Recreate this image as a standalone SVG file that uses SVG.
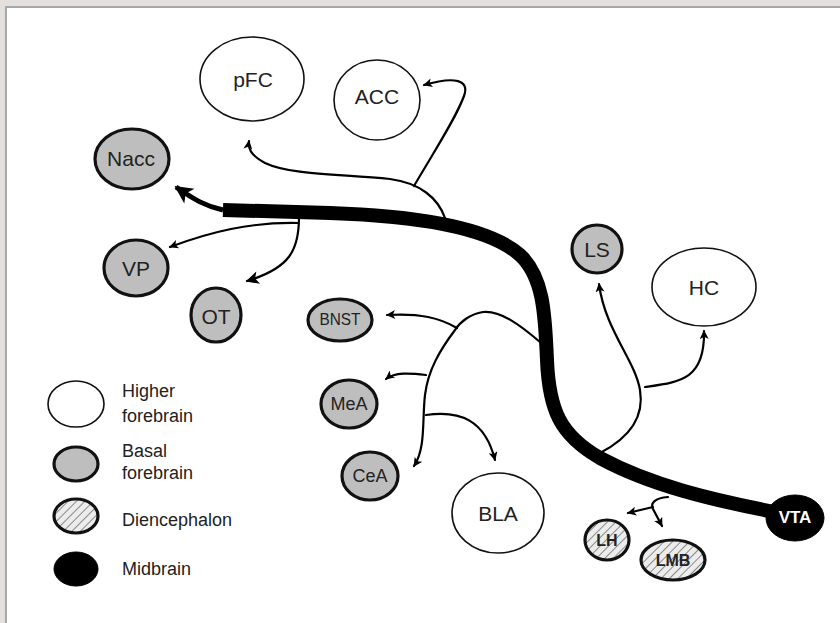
<svg xmlns="http://www.w3.org/2000/svg" width="840" height="623" viewBox="0 0 840 623">
<defs>
<style>
text{font-family:"Liberation Sans",Arial,sans-serif;fill:#222;}
.lbl{font-size:21px;text-anchor:middle;dominant-baseline:central;}
.bold{font-weight:bold;}
.leg{font-size:18px;}
.hi{fill:#fff;stroke:#111;stroke-width:1.6;}
.ba{fill:#bebebe;stroke:#111;stroke-width:3.2;}
.di{fill:url(#hatch);stroke:#111;stroke-width:3.2;}
.mid{fill:#000;stroke:#000;stroke-width:1;}
.c{fill:none;stroke:#000;stroke-width:2.2;stroke-linecap:round;}
</style>
<pattern id="hatch" patternUnits="userSpaceOnUse" width="6" height="6" patternTransform="rotate(45)">
<rect width="6" height="6" fill="#ececec"/>
<line x1="0" y1="0" x2="0" y2="6" stroke="#8a8a8a" stroke-width="2"/>
</pattern>
<marker id="a" viewBox="0 0 10 10" refX="9" refY="5" markerWidth="11" markerHeight="9" markerUnits="userSpaceOnUse" orient="auto"><path d="M0,0 L10,5 L0,10 L2.5,5 z"/></marker>
<marker id="b" viewBox="0 0 10 10" refX="9" refY="5" markerWidth="15" markerHeight="13" markerUnits="userSpaceOnUse" orient="auto"><path d="M0,0 L10,5 L0,10 L2.5,5 z"/></marker>
<marker id="c" viewBox="0 0 10 10" refX="9" refY="5" markerWidth="20" markerHeight="18" markerUnits="userSpaceOnUse" orient="auto"><path d="M0,0 L10,5 L0,10 L2.5,5 z"/></marker>
</defs>
<rect x="0" y="0" width="840" height="623" fill="#e3e0dd"/>
<rect x="6" y="7" width="840" height="630" fill="#fff" stroke="#a8a8a8" stroke-width="2"/>

<g id="connectors">
<path d="M223,210 L330,213 C420,216 490,228 520,255 C545,278 545,320 547,360 C549,410 560,435 600,458 C650,485 710,500 790,515" fill="none" stroke="#000" stroke-width="14"/>
<path d="M223,210 C205,206 195,200 176,187" fill="none" stroke="#000" stroke-width="5" marker-end="url(#c)"/>
<path class="c" d="M298,223 C250,222 210,232 170,247" stroke-width="3" marker-end="url(#a)"/>
<path class="c" d="M299,217 C299,250 290,268 247,281" stroke-width="3.5" marker-end="url(#b)"/>
<path class="c" d="M445,218 C438,198 420,183 390,179 C340,174 290,175 265,163 C250,155 248,148 249,141" marker-end="url(#a)"/>
<path class="c" d="M414,186 C435,150 455,120 464,96 C470,80 455,76 424,85" marker-end="url(#a)"/>
<path class="c" d="M540,342 C520,325 500,310 483,312 C470,314 460,322 455,330 C440,350 428,370 425,395 C422,420 426,448 414,466" marker-end="url(#a)"/>
<path class="c" d="M457,328 C440,318 420,313 387,315" marker-end="url(#a)"/>
<path class="c" d="M426,375 C410,373 395,372 386,379" marker-end="url(#a)"/>
<path class="c" d="M426,415 C460,410 485,420 495,460" marker-end="url(#a)"/>
<path class="c" d="M600,453 C625,440 645,420 640,390 C635,360 605,330 599,284" marker-end="url(#a)"/>
<path class="c" d="M645,387 C680,382 705,380 704,331" marker-end="url(#a)"/>
<path class="c" d="M668,497 C655,498 650,503 653,509 L662,526" stroke-width="2.6" marker-end="url(#a)"/>
<path class="c" d="M653,507 L628,513" marker-end="url(#a)"/>
</g>

<g id="pFC"><ellipse class="hi" cx="252" cy="79" rx="52" ry="42"/><text class="lbl" x="253" y="79">pFC</text></g>
<g id="ACC"><ellipse class="hi" cx="377" cy="100" rx="43" ry="40"/><text class="lbl" x="377" y="96">ACC</text></g>
<g id="Nacc"><ellipse class="ba" cx="132" cy="159" rx="37" ry="30"/><text class="lbl" x="131" y="158">Nacc</text></g>
<g id="VP"><ellipse class="ba" cx="136" cy="268" rx="32" ry="28"/><text class="lbl" x="136" y="268">VP</text></g>
<g id="OT"><ellipse class="ba" cx="216" cy="315" rx="25" ry="27"/><text class="lbl" x="216" y="316">OT</text></g>
<g id="BNST"><ellipse class="ba" cx="340" cy="320" rx="32" ry="21"/><text class="lbl" x="340" y="319" style="font-size:16px" textLength="41" lengthAdjust="spacingAndGlyphs">BNST</text></g>
<g id="MeA"><ellipse class="ba" cx="349" cy="404" rx="28" ry="24"/><text class="lbl" x="349" y="404" style="font-size:18px">MeA</text></g>
<g id="CeA"><ellipse class="ba" cx="370" cy="476" rx="28" ry="24"/><text class="lbl" x="370" y="476" style="font-size:18px">CeA</text></g>
<g id="BLA"><ellipse class="hi" cx="498" cy="513" rx="46" ry="40"/><text class="lbl" x="498" y="513">BLA</text></g>
<g id="LS"><ellipse class="ba" cx="597" cy="249" rx="25" ry="24"/><text class="lbl" x="597" y="249">LS</text></g>
<g id="HC"><ellipse class="hi" cx="704" cy="287" rx="52" ry="39"/><text class="lbl" x="704" y="287">HC</text></g>
<g id="LH"><ellipse class="di" cx="607" cy="540" rx="22" ry="20"/><text class="lbl bold" x="607" y="540" style="font-size:16px">LH</text></g>
<g id="LMB"><ellipse class="di" cx="673" cy="560" rx="32" ry="20"/><text class="lbl bold" x="673" y="560" style="font-size:16px">LMB</text></g>
<g id="VTA"><ellipse class="mid" cx="795" cy="518" rx="29" ry="23"/><text class="lbl bold" x="795" y="517" style="font-size:17px;fill:#fff">VTA</text></g>

<g id="legend">
<ellipse class="hi" cx="76" cy="404" rx="28" ry="23"/>
<ellipse class="ba" cx="76" cy="464" rx="22" ry="17"/>
<ellipse class="di" cx="76" cy="516" rx="22" ry="17"/>
<ellipse class="mid" cx="76" cy="569" rx="22" ry="17"/>
<text class="leg" x="122" y="397">Higher</text>
<text class="leg" x="122" y="422">forebrain</text>
<text class="leg" x="122" y="457">Basal</text>
<text class="leg" x="122" y="479">forebrain</text>
<text class="leg" x="122" y="526">Diencephalon</text>
<text class="leg" x="122" y="575">Midbrain</text>
</g>
</svg>
